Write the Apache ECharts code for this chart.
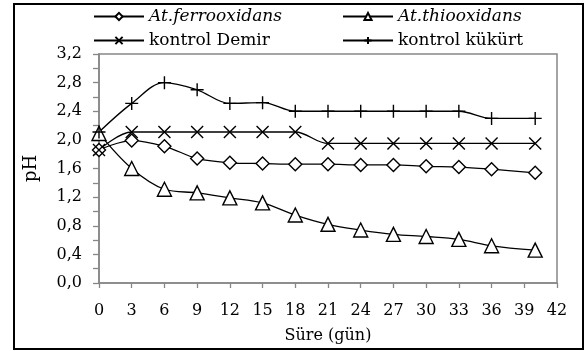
<!DOCTYPE html>
<html>
<head>
<meta charset="utf-8">
<script src="https://cdn.jsdelivr.net/npm/echarts@6/dist/echarts.min.js"></script>
<style>
html,body{margin:0;padding:0;background:#fff;}
#chart{width:585px;height:351px;}
</style>
</head>
<body>
<div id="chart"></div>
<script>
var days = [0, 3, 6, 9, 12, 15, 18, 21, 24, 27, 30, 33, 36, 40];
var ferro = [1.86, 1.99, 1.91, 1.74, 1.68, 1.67, 1.66, 1.66, 1.65, 1.65, 1.63, 1.62, 1.59, 1.54];
var thio = [2.09, 1.60, 1.31, 1.26, 1.19, 1.12, 0.95, 0.82, 0.74, 0.68, 0.65, 0.61, 0.52, 0.46];
var demir = [1.86, 2.11, 2.11, 2.11, 2.11, 2.11, 2.11, 1.95, 1.95, 1.95, 1.95, 1.95, 1.95, 1.95];
var kukurt = [2.11, 2.51, 2.80, 2.70, 2.51, 2.52, 2.40, 2.40, 2.40, 2.40, 2.40, 2.40, 2.30, 2.30];
var seriesNames = ['At.ferrooxidans', 'At.thiooxidans', 'kontrol Demir', 'kontrol kükürt'];
var xTicks = {min: 0, max: 42, step: 3};
var yTicks = {min: 0, max: 3.2, step: 0.2};

function pairs(vals) { return days.map(function (d, i) { return [d, vals[i]]; }); }

var FONT = 'DejaVu Serif';
var AX = '#868686';
var plusPath = 'path://M0,6L12,6M6,0L6,12';
var crossPath = 'path://M0,0L12,12M12,0L0,12';

function mk(name, vals, symbol, size, fill) {
  return {
    name: name, type: 'line', data: pairs(vals), smooth: 0.35,
    symbol: symbol, symbolSize: size, showAllSymbol: true,
    lineStyle: {color: '#000', width: 1.3},
    itemStyle: {color: fill, borderColor: '#000', borderWidth: 1.4},
    emphasis: {disabled: true}
  };
}

var chart = echarts.init(document.getElementById('chart'));
function leg(name, left, top, italic) {
  return {
    data: [name], left: left, top: top, padding: 0, itemWidth: 50, itemHeight: 9, itemGap: 0,
    textStyle: {fontFamily: FONT, fontSize: 17, color: '#000', fontStyle: italic ? 'italic' : 'normal'}
  };
}
chart.setOption({
  animation: false,
  backgroundColor: '#fff',
  textStyle: {fontFamily: FONT},
  graphic: [{type: 'rect', shape: {x: 14, y: 4, width: 569, height: 345}, style: {fill: 'none', stroke: '#000', lineWidth: 2}, silent: true}],
  legend: [
    leg(seriesNames[0], 93, 8, true),
    leg(seriesNames[1], 342, 8, true),
    leg(seriesNames[2], 93, 32, false),
    leg(seriesNames[3], 342, 32, false)
  ],
  grid: {left: 99, right: 28, top: 54, bottom: 68, show: true, borderColor: AX, borderWidth: 1.5, backgroundColor: 'transparent'},
  xAxis: {
    type: 'value', min: xTicks.min, max: xTicks.max, interval: xTicks.step,
    name: 'Süre (gün)', nameLocation: 'middle', nameGap: 45,
    nameTextStyle: {fontFamily: FONT, fontSize: 16, color: '#000'},
    axisLine: {lineStyle: {color: AX, width: 1.5}},
    axisTick: {inside: false, length: 5, lineStyle: {color: AX, width: 1.3}},
    axisLabel: {fontFamily: FONT, fontSize: 16, color: '#000', margin: 20},
    splitLine: {show: false}
  },
  yAxis: {
    type: 'value', min: yTicks.min, max: yTicks.max, interval: yTicks.step,
    name: 'pH', nameLocation: 'middle', nameGap: 59, nameRotate: 90,
    nameTextStyle: {fontFamily: FONT, fontSize: 18, color: '#000'},
    axisLine: {show: true, lineStyle: {color: AX, width: 1.5}},
    axisTick: {show: true, inside: false, length: 6, lineStyle: {color: AX, width: 1.3}},
    axisLabel: {
      fontFamily: FONT, fontSize: 16, color: '#000', margin: 17,
      formatter: function (v) { return Math.round(v * 10) % 4 === 0 ? v.toFixed(1).replace('.', ',') : ''; }
    },
    splitLine: {show: false}
  },
  series: [
    mk(seriesNames[0], ferro, 'diamond', 13, '#fff'),
    mk(seriesNames[1], thio, 'triangle', 14, '#fff'),
    mk(seriesNames[2], demir, crossPath, 12, '#000'),
    mk(seriesNames[3], kukurt, plusPath, 13, '#000')
  ]
});
</script>
</body>
</html>
